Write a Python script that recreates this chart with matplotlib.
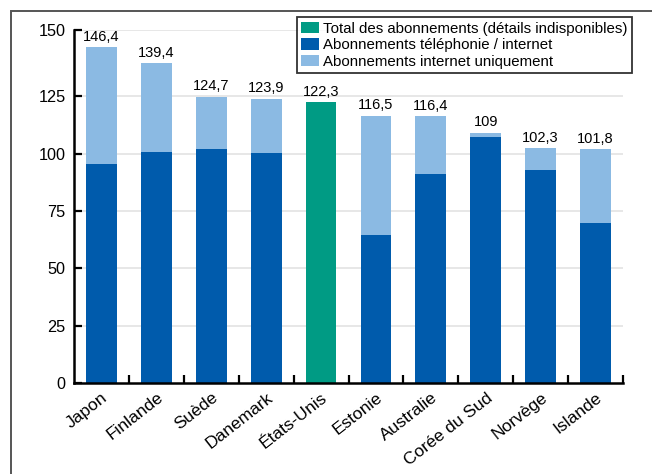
import matplotlib.pyplot as plt
import matplotlib.transforms as mtransforms
import numpy as np
from matplotlib.patches import Rectangle


plt.rcParams['font.family'] = ['Liberation Sans', 'DejaVu Sans']

countries = ['Japon', 'Finlande', 'Suède', 'Danemark', 'États-Unis',
             'Estonie', 'Australie', 'Corée du Sud', 'Norvège', 'Islande']
totals = [146.4, 139.4, 124.7, 123.9, 122.3, 116.5, 116.4, 109, 102.3, 101.8]
total_labels = ['146,4', '139,4', '124,7', '123,9', '122,3',
                '116,5', '116,4', '109', '102,3', '101,8']
# phone/internet part; NaN where no details (États-Unis)
phone_internet = [95.5, 100.5, 102.0, 100.3, np.nan, 64.6, 91.1, 107.3, 92.9, 69.7]
no_details = [False, False, False, False, True, False, False, False, False, False]

green = '#009b84'
dark_blue = '#005bac'
light_blue = '#8bbae3'

fig = plt.figure(figsize=(6.52, 4.74), dpi=100)

# outer frame, cut off on the right and bottom like the original
fig.patches.append(Rectangle((11 / 652, -0.1), 2, 1 - 11 / 474 + 0.1,
                             transform=fig.transFigure, fill=False,
                             edgecolor='#555555', linewidth=1.4))

ax = fig.add_axes([74 / 652, 1 - 383 / 474, 549 / 652, (383 - 29.7) / 474])

x = np.arange(len(countries))
width = 0.56

totals_arr = np.array(totals)
phone_arr = np.array(phone_internet)
mask = np.array(no_details)

ax.bar(x[mask], totals_arr[mask], width, color=green,
       label='Total des abonnements (détails indisponibles)', zorder=2)
ax.bar(x[~mask], phone_arr[~mask], width, color=dark_blue,
       label='Abonnements téléphonie / internet', zorder=2)
ax.bar(x[~mask], totals_arr[~mask] - phone_arr[~mask], width,
       bottom=phone_arr[~mask], color=light_blue,
       label='Abonnements internet uniquement', zorder=2)

for xi, t, lab in zip(x, totals, total_labels):
    ax.text(xi, t + 1.5, lab, ha='center', va='bottom', fontsize=10.5)

# the top tick of the original sits at the very top of the axis
y_top = 154
ax.set_ylim(0, y_top)
ax.set_xlim(-0.5, len(countries) - 0.5)
yt = [0, 25, 50, 75, 100, 125, y_top]
ax.set_yticks(yt)
ax.set_yticklabels(['0', '25', '50', '75', '100', '125', '150'], fontsize=11.7)
for y in yt[1:]:
    ax.axhline(y, color='#e3e3e3', linewidth=1.2, zorder=0)

ax.set_xticks(x)
ax.set_xticklabels(countries, rotation=38, ha='right', va='top',
                   rotation_mode='anchor', fontsize=12.5)
shift = mtransforms.ScaledTranslation(8.5 / 100, 0, fig.dpi_scale_trans)
for lab in ax.get_xticklabels():
    lab.set_transform(lab.get_transform() + shift)
ax.set_xticks(np.arange(0.5, len(countries)), minor=True)
ax.tick_params(axis='x', which='major', length=0, pad=5)
ax.tick_params(axis='x', which='minor', direction='in', length=6, width=1.6)
ax.tick_params(axis='y', direction='in', length=6, width=1.6, pad=6)

for side in ['top', 'right']:
    ax.spines[side].set_visible(False)
for side in ['left', 'bottom']:
    ax.spines[side].set_linewidth(1.8)

leg = ax.legend(loc='upper right', bbox_to_anchor=(632 / 652, 1 - 17 / 474),
                bbox_transform=fig.transFigure, fontsize=10.8, frameon=True,
                fancybox=False, edgecolor='black', handlelength=1.2,
                handleheight=0.8, handletextpad=0.25, borderpad=0.3,
                labelspacing=0.18, borderaxespad=0)
leg.get_frame().set_linewidth(1.3)

fig.savefig('out.png', dpi=100)
